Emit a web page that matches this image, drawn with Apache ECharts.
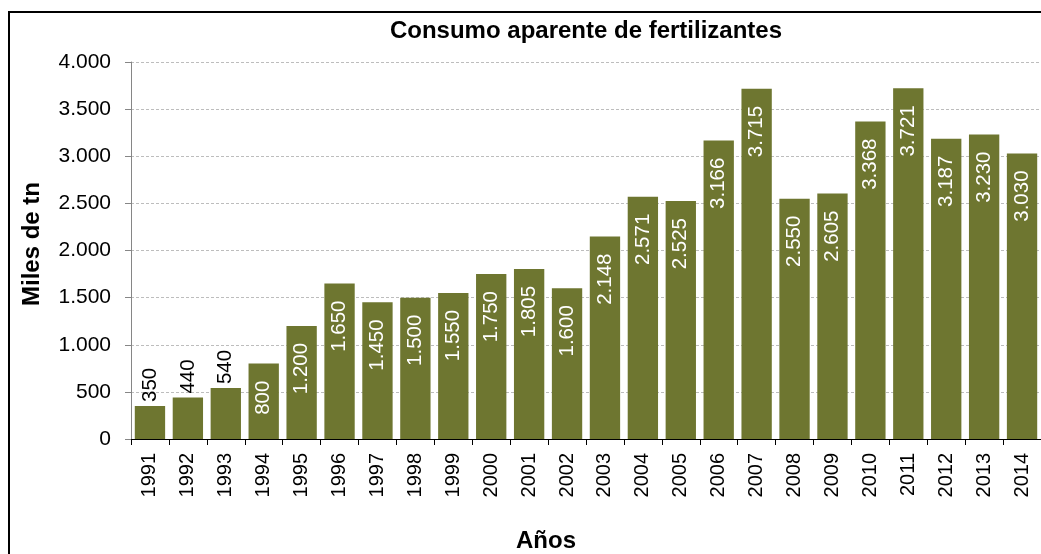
<!DOCTYPE html>
<html>
<head>
<meta charset="utf-8">
<script src="https://cdn.jsdelivr.net/npm/echarts@6/dist/echarts.min.js"></script>
<style>
html,body{margin:0;padding:0;background:#fff;}
#chart{width:1041px;height:554px;}
</style>
</head>
<body>
<div id="chart"></div>
<script>
const years = ['1991','1992','1993','1994','1995','1996','1997','1998','1999','2000','2001','2002','2003','2004','2005','2006','2007','2008','2009','2010','2011','2012','2013','2014'];
const consumo = [350,440,540,800,1200,1650,1450,1500,1550,1750,1805,1600,2148,2571,2525,3166,3715,2550,2605,3368,3721,3187,3230,3030];
const outsideLabelYears = ['1991','1992','1993'];
const yTicks = {min:0, max:4000, interval:500};
const titleText = 'Consumo aparente de fertilizantes';
const yName = 'Miles de tn';
const xName = 'Años';

const FONT = '"Liberation Sans", Arial, sans-serif';
const fmt = v => String(v).replace(/\B(?=(\d{3})+(?!\d))/g, '.');

const barColor = '#6E7630';
const seriesData = consumo.map((v,i) => {
  if (outsideLabelYears.includes(years[i])) {
    return {value:v, label:{position:'top', align:'left', color:'#000', distance:4}};
  }
  return v;
});

const chart = echarts.init(document.getElementById('chart'), null, {renderer:'canvas'});
chart.setOption({
  animation:false,
  backgroundColor:'#fff',
  title:{
    text:titleText,
    left:581, top:14, textAlign:'center',
    textStyle:{fontFamily:FONT, fontSize:24, fontWeight:'bold', color:'#000'}
  },
  grid:{left:131, top:62, width:913, height:377, containLabel:false},
  xAxis:{
    type:'category',
    data:years,
    axisLine:{lineStyle:{color:'#000', width:1}},
    axisTick:{show:true, length:6, lineStyle:{color:'#000'}},
    axisLabel:{rotate:90, margin:14, fontFamily:FONT, fontSize:20, color:'#000', interval:0},
    splitLine:{show:false}
  },
  yAxis:{
    type:'value',
    min:yTicks.min, max:yTicks.max, interval:yTicks.interval,
    axisLine:{show:true, lineStyle:{color:'#868686'}},
    axisTick:{show:true, length:6, lineStyle:{color:'#868686'}},
    axisLabel:{margin:20, fontFamily:FONT, fontSize:21, color:'#000', formatter:v => fmt(v)},
    splitLine:{show:true, lineStyle:{color:'#bdbdbd', type:[3,2], width:1}}
  },
  series:[{
    type:'bar',
    data:seriesData,
    barCategoryGap:'20%',
    itemStyle:{color:barColor},
    label:{
      show:true,
      position:'insideTop',
      rotate:90,
      align:'right',
      verticalAlign:'middle',
      distance:17,
      color:'#fff',
      fontFamily:FONT,
      fontSize:20.5,
      formatter:p => fmt(p.value)
    }
  }],
  graphic:[
    {type:'rect', shape:{x:9, y:12, width:1100, height:700}, style:{fill:null, stroke:'#000', lineWidth:2}, silent:true, z:100},
    {type:'text', x:32, y:244, rotation:Math.PI/2, style:{text:yName, fontFamily:FONT, fontSize:24, fontWeight:'bold', fill:'#000', textAlign:'center', textVerticalAlign:'middle'}},
    {type:'text', x:546, y:541, style:{text:xName, fontFamily:FONT, fontSize:24, fontWeight:'bold', fill:'#000', textAlign:'center', textVerticalAlign:'middle'}}
  ]
});
</script>
</body>
</html>
